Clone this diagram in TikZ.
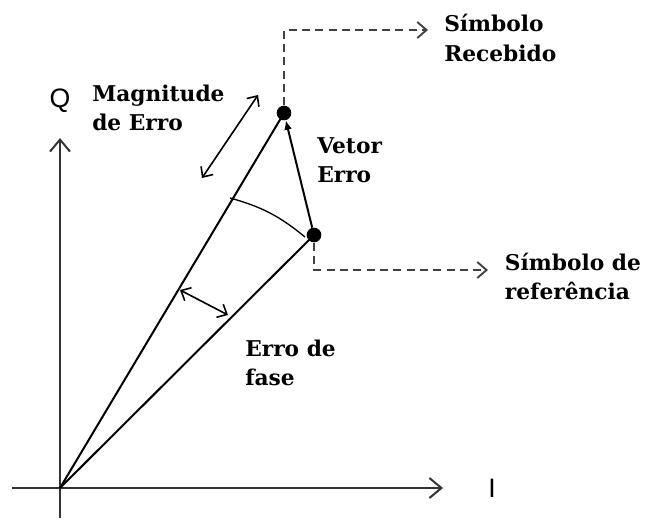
\documentclass[tikz,border=0pt]{standalone}
\usepackage{fontspec}
\setmainfont{DejaVu Serif}
\newfontfamily\axisfont{Liberation Sans}
\usepackage{xcolor}
\usepackage{tikz}
\usetikzlibrary{arrows.meta, positioning}

\begin{document}
\begin{tikzpicture}[
        x=0.75pt, y=-0.75pt,
        axis/.style={draw=black!80, line width=1.9pt, -{Straight Barb[length=9pt, width=15pt, line width=1.5pt]}},
        vec/.style={draw=black, line width=1.5pt},
        errvec/.style={vec, -{Latex[length=7pt, width=6pt]}},
        dbl/.style={draw=black, line width=1.2pt, {Straight Barb[length=6pt, width=11pt]}-{Straight Barb[length=6pt, width=11pt]}},
        lead/.style={draw=black!75, line width=1.8pt, dash pattern=on 6pt off 4pt, -{Straight Barb[length=7pt, width=12pt, line width=1.4pt]}},
        dot/.style={circle, fill=black, inner sep=0pt, minimum size=11pt},
        txt/.style={font=\bfseries\fontsize{16.3}{22}\selectfont, align=left, inner sep=0pt, anchor=west},
        axlbl/.style={font=\axisfont\fontsize{20}{22}\selectfont, inner sep=0pt}
    ]
    \useasboundingbox (0,0) rectangle (649,519);

    % Axes
    \coordinate (O) at (60,488);
    \coordinate (ybot) at (60,518);
    \coordinate (ytop) at (60,138);
    \coordinate (xleft) at (12,488);
    \coordinate (xright) at (443,488);
    \draw[axis] (ybot) -- (ytop);
    \draw[axis] (xleft) -- (xright);
    \node[axlbl] (Q) at (60,101) {Q};
    \node[axlbl] (I) at (492,488) {I};

    % Symbols
    \node[dot] (rx) at (284,113) {};
    \node[dot] (ref) at (314,235) {};
    \draw[vec] (O) -- (rx.center);
    \draw[vec] (O) -- (ref.center);
    \draw[errvec] (ref) -- (rx);

    % Phase arc and error arrows
    \coordinate (arcA) at (230,198);
    \coordinate (arcB) at (305,237);
    \draw[line width=1pt] (arcA) to[bend left=12] (arcB);
    \coordinate (ph1) at (180,290);
    \coordinate (ph2) at (228,315);
    \draw[dbl] (ph1) -- (ph2);
    \coordinate (mag1) at (202,178);
    \coordinate (mag2) at (258,95);
    \draw[dbl] (mag1) -- (mag2);

    % Leader lines
    \coordinate (rxend) at (428,30);
    \coordinate (refend) at (488,270);
    \draw[lead] (rx) |- (rxend);
    \draw[lead] (ref) |- (refend);

    % Labels
    \node[txt, right=12pt of rxend, yshift=-6pt] (rxlbl) {Símbolo\\Recebido};
    \node[txt, right=12.5pt of refend, yshift=-5pt] (reflbl) {Símbolo de\\referência};
    \node[txt] (vetlbl) at (317,160) {Vetor\\Erro};
    \node[txt] (maglbl) at (92,108) {Magnitude\\de Erro};
    \node[txt] (faselbl) at (245,363) {Erro de\\fase};

\end{tikzpicture}
\end{document}
